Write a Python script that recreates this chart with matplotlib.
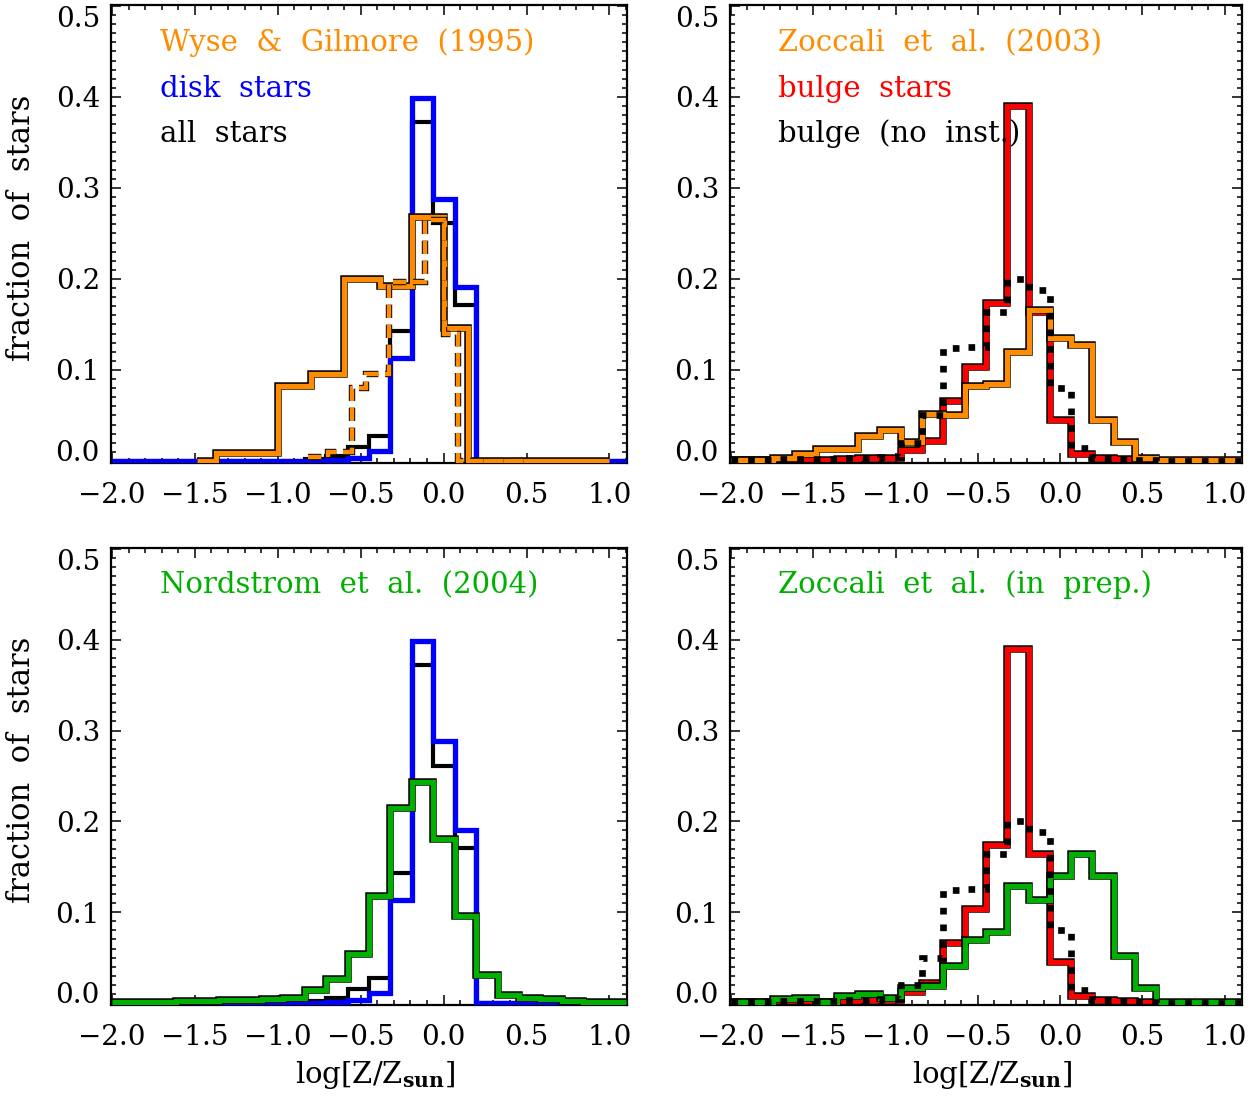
import numpy as np
import matplotlib
matplotlib.use("Agg")
import matplotlib.pyplot as plt
import matplotlib.patheffects as pe
from matplotlib.ticker import MultipleLocator

# ---------------- data ----------------
bin_lo, bin_hi, n_bins = -2.0, 1.1, 24

disk_stars = [0, 0, 0, 0, 0, 0, 0, 0, 0, 0, 0.001, 0.003, 0.011, 0.113, 0.399, 0.288, 0.191,
              0, 0, 0, 0, 0, 0, 0]
all_stars = [0, 0, 0, 0, 0, 0, 0, 0, 0, 0.002, 0.006, 0.015, 0.027, 0.143, 0.372, 0.261, 0.171,
             0, 0, 0, 0, 0, 0, 0]
nordstrom = [0.001, 0.001, 0.0015, 0.002, 0.002, 0.003, 0.003, 0.004, 0.006, 0.014, 0.026, 0.054,
             0.118, 0.215, 0.243, 0.181, 0.096, 0.031, 0.009, 0.005, 0.004, 0.002, 0.001, 0.001]
bulge_stars = [0.001, 0.001, 0.001, 0.001, 0.001, 0.002, 0.003, 0.003, 0.012, 0.022, 0.066, 0.103,
               0.174, 0.390, 0.164, 0.045, 0.008, 0.003, 0.002, 0.001, 0, 0, 0, 0]
bulge_noinst = [0.001, 0.001, 0.002, 0.002, 0.002, 0.003, 0.003, 0.004, 0.020, 0.050, 0.124, 0.125,
                0.164, 0.200, 0.188, 0.080, 0.014, 0.003, 0.002, 0.001, 0, 0, 0, 0]
zoccali03 = [0.001, 0.001, 0.003, 0.008, 0.013, 0.013, 0.027, 0.034, 0.021, 0.052, 0.050, 0.082,
             0.085, 0.120, 0.166, 0.135, 0.127, 0.045, 0.021, 0.003, 0.001, 0.001, 0.001, 0.001]
zoccali_prep = [0.001, 0.001, 0.004, 0.006, 0.001, 0.008, 0.010, 0.006, 0.017, 0.019, 0.041, 0.069,
                0.078, 0.129, 0.113, 0.140, 0.164, 0.140, 0.052, 0.017, 0.001, 0.001, 0.001, 0.001]

wg_edges = [-1.49, -1.37, -1.0, -0.80, -0.60, -0.385, -0.19, 0.0, 0.148, 1.0]
wg_vals = [0.0, 0.009, 0.082, 0.096, 0.200, 0.192, 0.268, 0.146, 0.0]
wgd_edges = [-0.82, -0.70, -0.55, -0.47, -0.33, -0.11, 0.0, 0.085, 0.5]
wgd_vals = [0.004, 0.010, 0.080, 0.096, 0.197, 0.265, 0.140, 0.0]

xtick_vals = [-2.0, -1.5, -1.0, -0.5, 0.0, 0.5, 1.0]
xtick_labels = ['\u22122.0', '\u22121.5', '\u22121.0', '\u22120.5', '0.0', '0.5', '1.0']
ytick_vals = [0.0, 0.1, 0.2, 0.3, 0.4, 0.5]
ytick_labels = ['0.0', '0.1', '0.2', '0.3', '0.4', '0.5']

edges = np.linspace(bin_lo, bin_hi, n_bins + 1)

# ---------------- style ----------------
ORANGE = '#ff8c00'
BLUE = '#0000ff'
RED = '#ff0000'
GREEN = '#00b000'
FONT = 'DejaVu Serif'
plt.rcParams['font.family'] = FONT
plt.rcParams['mathtext.fontset'] = 'dejavuserif'

fig = plt.figure(figsize=(12.55, 10.97), dpi=100)

W, H = 1255, 1097
def axbox(l, r, t, b):
    return [l / W, 1 - b / H, (r - l) / W, (b - t) / H]

axes = {
    'tl': fig.add_axes(axbox(111, 627, 5, 463)),
    'tr': fig.add_axes(axbox(730, 1242, 5, 463)),
    'bl': fig.add_axes(axbox(111, 627, 548, 1005)),
    'br': fig.add_axes(axbox(730, 1242, 548, 1005)),
}

outline = [pe.Stroke(linewidth=5.4, foreground='black'), pe.Normal()]
outline_thin = [pe.Stroke(linewidth=4.6, foreground='black'), pe.Normal()]


def hist(ax, vals, e, color, lw=3.8, ls='-', outl=None, z=2):
    p = ax.stairs(vals, e, color=color, linewidth=lw, linestyle=ls, baseline=None, zorder=z)
    p.set_capstyle('butt')
    if outl:
        p.set_path_effects(outl)
    return p


def dotted(ax, vals, e, z=5):
    p = ax.stairs(vals, e, color='black', linewidth=4.8, linestyle=(0, (1, 1.5)),
                  baseline=None, zorder=z)
    p.set_capstyle('butt')
    return p


for key, ax in axes.items():
    ax.set_xlim(-2.006, 1.106)
    ax.set_ylim(-0.0022, 0.501)
    ax.set_xticks(xtick_vals)
    ax.set_xticklabels(xtick_labels)
    ax.set_yticks(ytick_vals)
    ax.set_yticklabels(ytick_labels)
    ax.xaxis.set_minor_locator(MultipleLocator(0.1))
    ax.yaxis.set_minor_locator(MultipleLocator(0.01))
    ax.tick_params(which='both', direction='in', top=True, right=True, width=1.1)
    ax.tick_params(which='major', length=7.2)
    ax.tick_params(which='minor', length=3.6)
    ax.tick_params(axis='x', pad=14, labelsize=20)
    ax.tick_params(axis='y', pad=8, labelsize=20)
    for s in ax.spines.values():
        s.set_linewidth(1.6)
    ylabs = ax.get_yticklabels()
    ylabs[0].set_verticalalignment('baseline')
    ylabs[-1].set_verticalalignment('top')

# top-left
ax = axes['tl']
hist(ax, all_stars, edges, 'black', lw=3.0, z=2)
hist(ax, disk_stars, edges, BLUE, lw=3.8, z=3)
hist(ax, wg_vals, wg_edges, ORANGE, lw=3.8, outl=outline, z=4)
hist(ax, wgd_vals, wgd_edges, ORANGE, lw=3.2, ls=(0, (3, 1.5)), outl=outline_thin, z=5)

# top-right
ax = axes['tr']
hist(ax, bulge_stars, edges, RED, lw=3.8, outl=outline, z=2)
hist(ax, zoccali03, edges, ORANGE, lw=3.8, outl=outline, z=3)
dotted(ax, bulge_noinst, edges, z=5)

# bottom-left
ax = axes['bl']
hist(ax, all_stars, edges, 'black', lw=3.0, z=2)
hist(ax, disk_stars, edges, BLUE, lw=3.8, z=3)
hist(ax, nordstrom, edges, GREEN, lw=3.8, outl=outline, z=4)

# bottom-right
ax = axes['br']
hist(ax, bulge_stars, edges, RED, lw=3.8, outl=outline, z=2)
hist(ax, zoccali_prep, edges, GREEN, lw=3.8, outl=outline, z=3)
dotted(ax, bulge_noinst, edges, z=5)

# legend texts
TS = 21
def label(ax, x_px, y_px, box, text, color):
    l, r, t, b = box
    ax.text((x_px - l) / (r - l), (b - y_px) / (b - t), text, color=color, fontsize=TS,
            ha='left', va='center', transform=ax.transAxes)

box_tl = (111, 627, 5, 463)
box_tr = (730, 1242, 5, 463)
box_bl = (111, 627, 548, 1005)
box_br = (730, 1242, 548, 1005)
label(axes['tl'], 160, 43, box_tl, 'Wyse  &  Gilmore  (1995)', ORANGE)
label(axes['tl'], 160, 89, box_tl, 'disk  stars', BLUE)
label(axes['tl'], 160, 134, box_tl, 'all  stars', 'black')
label(axes['tr'], 778, 43, box_tr, 'Zoccali  et  al.  (2003)', ORANGE)
label(axes['tr'], 778, 89, box_tr, 'bulge  stars', RED)
label(axes['tr'], 778, 134, box_tr, 'bulge  (no  inst.)', 'black')
label(axes['bl'], 160, 585, box_bl, 'Nordstrom  et  al.  (2004)', GREEN)
label(axes['br'], 778, 585, box_br, 'Zoccali  et  al.  (in  prep.)', GREEN)

fig.text(22 / W, 1 - 228 / H, 'fraction  of  stars', rotation=90, ha='center', va='center',
         fontsize=22)
fig.text(22 / W, 1 - 770 / H, 'fraction  of  stars', rotation=90, ha='center', va='center',
         fontsize=22)
fig.text(375 / W, 1 - 1075 / H, r'log[Z/Z$_{\mathbf{sun}}$]', ha='center', va='center',
         fontsize=21)
fig.text(992 / W, 1 - 1075 / H, r'log[Z/Z$_{\mathbf{sun}}$]', ha='center', va='center',
         fontsize=21)

fig.savefig('out.png', dpi=100)
